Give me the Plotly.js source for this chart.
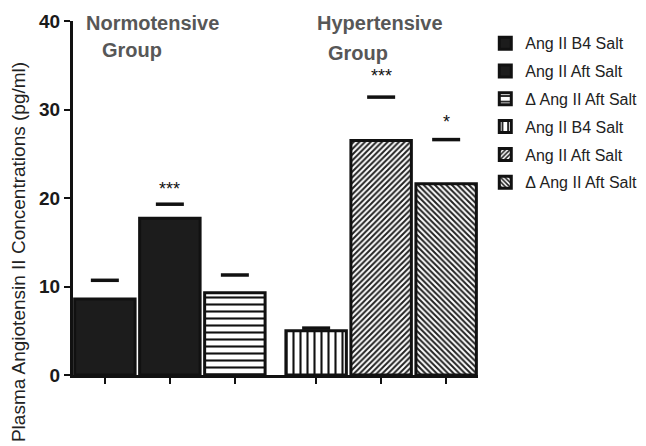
<!DOCTYPE html>
<html>
<head>
<meta charset="utf-8">
<script src="https://cdn.plot.ly/plotly-3.0.1.min.js"></script>
<style>html,body{margin:0;padding:0;background:#fff;}#chart{width:646px;height:446px;}</style>
</head>
<body>
<div id="chart"></div>
<script>
// Data
var seriesNames = ["Ang II B4 Salt", "Ang II Aft Salt", "\u0394 Ang II Aft Salt", "Ang II B4 Salt", "Ang II Aft Salt", "\u0394 Ang II Aft Salt"];
var groupLabels = ["Normotensive", "Group", "Hypertensive", "Group"];
var positions = [0, 1, 2, 3.25, 4.25, 5.25];
var meanValues = [8.6, 17.7, 9.3, 5.0, 26.5, 21.6];
var capValues = [10.7, 19.3, 11.3, 5.3, 31.4, 26.6];
var sigLabels = ["", "***", "", "", "***", "*"];
var sigValues = [null, 21.0, null, null, 33.8, 28.6];
var yTicks = [0, 10, 20, 30, 40];

var font = "Liberation Sans, Arial, sans-serif";

var styles = [
  {color: "#1c1c1c", pattern: {shape: ""}},
  {color: "#1c1c1c", pattern: {shape: ""}},
  {color: "#ffffff", pattern: {shape: "-", fgcolor: "#111", bgcolor: "#fff", size: 7, solidity: 0.3, fillmode: "replace"}},
  {color: "#ffffff", pattern: {shape: "|", fgcolor: "#111", bgcolor: "#fff", size: 7, solidity: 0.3, fillmode: "replace"}},
  {color: "#ffffff", pattern: {shape: "/", fgcolor: "#222", bgcolor: "#fff", size: 4, solidity: 0.5, fillmode: "replace"}},
  {color: "#ffffff", pattern: {shape: "\\", fgcolor: "#222", bgcolor: "#fff", size: 4, solidity: 0.5, fillmode: "replace"}}
];

var traces = [];
for (var i = 0; i < meanValues.length; i++) {
  traces.push({
    type: "bar",
    x: [positions[i]],
    y: [meanValues[i]],
    name: seriesNames[i],
    legendgroup: "g" + i,
    width: 0.93,
    marker: {color: styles[i].color, pattern: styles[i].pattern, line: {color: "#111", width: 3}},
    hoverinfo: "x+y"
  });
}
traces.push({
  type: "scatter",
  mode: "markers",
  x: positions,
  y: capValues,
  showlegend: false,
  marker: {symbol: "line-ew", size: 20, line: {color: "#111", width: 3.5}},
  hoverinfo: "y"
});

var annotations = [];
for (var j = 0; j < sigLabels.length; j++) {
  if (sigLabels[j]) {
    annotations.push({x: positions[j], y: sigValues[j], xref: "x", yref: "y", text: sigLabels[j], showarrow: false,
      font: {family: font, size: 18, color: "#111"}, xanchor: "center", yanchor: "middle"});
  }
}
annotations.push({x: -0.136, y: 0.347, xref: "paper", yref: "paper", text: "Plasma Angiotensin II Concentrations (pg/ml)",
  textangle: -90, showarrow: false, xanchor: "center", yanchor: "middle", font: {family: font, size: 19, color: "#222"}});

var glPos = [[0.73, 23], [0.42, 50], [4.24, 23], [3.9, 53]];
for (var k = 0; k < groupLabels.length; k++) {
  annotations.push({x: glPos[k][0], y: (375 - glPos[k][1]) / 354, xref: "x", yref: "paper", text: groupLabels[k], showarrow: false,
    xanchor: "center", yanchor: "middle",
    font: {family: font, size: 20, color: "#575757", weight: "bold"}});
}

var layout = {
  width: 646, height: 446,
  margin: {l: 73, r: 168, t: 21, b: 71, pad: 0, autoexpand: false},
  paper_bgcolor: "#fff", plot_bgcolor: "#fff",
  barmode: "overlay",
  showlegend: true,
  legend: {x: 1.018, y: 0.985, xanchor: "left", yanchor: "top", traceorder: "grouped", tracegroupgap: 4,
    font: {family: font, size: 16, color: "#222"}, bgcolor: "rgba(0,0,0,0)"},
  xaxis: {range: [-0.49, 5.74], showgrid: false, zeroline: false, showline: true, linecolor: "#111", linewidth: 3,
    tickvals: positions, ticktext: ["", "", "", "", "", ""], ticks: "outside", ticklen: 6, tickwidth: 2, tickcolor: "#111"},
  yaxis: {range: [0, 40], tickvals: yTicks, showgrid: false, zeroline: false, showline: true, linecolor: "#111", linewidth: 3,
    ticks: "outside", ticklen: 6, tickwidth: 2, tickcolor: "#111",
    tickfont: {family: font, size: 19, color: "#1a1a1a", weight: "bold"}},
  annotations: annotations
};

Plotly.newPlot("chart", traces, layout, {displayModeBar: false, staticPlot: true});
</script>
</body>
</html>
